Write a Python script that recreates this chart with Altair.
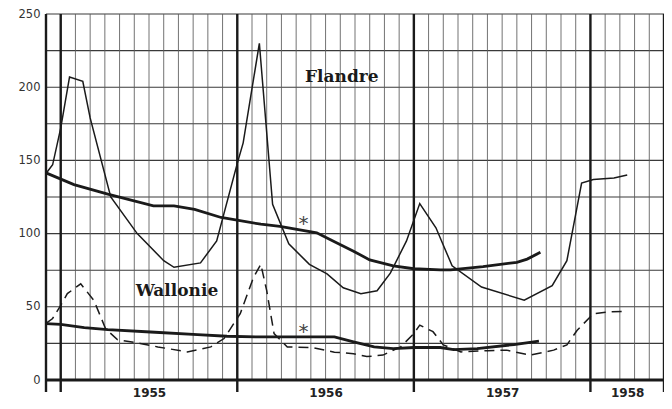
import altair as alt
import pandas as pd

# month index: 0 = January 1955, -1 = December 1954
flandre_m = [-1, -0.55, 0, 0.6, 1.5, 2.0, 3.4, 5.2, 7.0, 7.7, 9.5, 10.6, 12.0, 12.4, 13.5, 14.4, 15.5,
             16.9, 18.1, 19.2, 20.4, 21.5, 22.4, 23.5, 24.4, 25.5, 26.6, 28.6, 31.5, 33.4, 34.4, 35.4,
             36.2, 37.6, 38.5]
flandre_v = [141, 147, 172, 207, 204, 179, 125, 100, 81.5, 77, 80, 95, 148, 162, 230, 120, 93,
             79, 72.5, 63, 59, 61, 73, 95, 120.5, 104, 78, 63.5, 54.5, 64.5, 81.5, 134.5,
             137, 138, 140]

flandre_trend_m = [-1, 0.9, 3.2, 6.3, 7.7, 9.1, 10.9, 13.6, 14.9, 17.4, 18.3, 19.9, 21.0, 22.6, 24,
                   25.8, 26.5, 28.7, 31.0, 31.7, 32.6]
flandre_trend_v = [141.5, 133.5, 127, 119, 119, 116.6, 111, 106.4, 105, 100.5, 96, 88, 82, 78, 76,
                   75.2, 75.2, 77.4, 80.4, 82.6, 87.2]

wallonie_m = [-1, -0.55, 0, 0.45, 1.36, 2.26, 3.05, 3.85, 5.4, 6.6, 8.6, 10.2, 11.1, 12.2, 13.1, 13.6,
              14.0, 14.5, 15.4, 17.2, 18.6, 19.9, 20.8, 21.9, 23.1, 24.0, 24.4, 25.3, 26.0, 27.2, 29,
              30.3, 31.9, 33.5, 34.4, 35.1, 36.2, 37.1, 38.5]
wallonie_v = [38.7, 42, 51, 59, 65.7, 54.3, 35, 27.6, 25, 22.6, 19.2, 22.6, 28.3, 45.3, 70, 79,
              61, 31.7, 22.6, 22, 19, 18, 16, 17, 22.6, 31.7, 37.5, 33, 24, 19.2, 20,
              20.4, 17, 20.4, 24, 34, 45.3, 46.4, 47]

wallonie_trend_m = [-1, 0, 1.6, 3.2, 6.1, 9.3, 11.3, 13.6, 18.6, 19.9, 21.3, 22.6, 24, 25.8, 26.7,
                    28.3, 30.8, 32.5]
wallonie_trend_v = [38.5, 38, 35.8, 34.4, 32.8, 31, 29.9, 29.4, 29.4, 26, 22.6, 21.5, 22.2, 22.2, 20.8,
                    21.5, 24.2, 26.5]

year_labels = ["1955", "1956", "1957", "1958"]
year_label_pos = [6, 18, 30, 38.5]
year_lines = [-1, 0, 12, 24, 36, 41]
month_lines = list(range(-1, 42))
h_grid = [25, 50, 75, 100, 125, 150, 175, 200, 225, 250]
y_ticks = [0, 50, 100, 150, 200, 250]

region_labels = ["Flandre", "Wallonie"]
region_label_m = [19.1, 7.9]
region_label_v = [207, 61]
star_m = [16.5, 16.5]
star_v = [110, 36]

W, H = 618, 366
xs = alt.Scale(domain=[-1, 41], nice=False, zero=False)
ys = alt.Scale(domain=[0, 250], nice=False)

def series(m, v, name):
    return pd.DataFrame({"m": m, "v": v, "s": name})

df_f = series(flandre_m, flandre_v, "f")
df_ft = series(flandre_trend_m, flandre_trend_v, "ft")
df_w = series(wallonie_m, wallonie_v, "w")
df_wt = series(wallonie_trend_m, wallonie_trend_v, "wt")

ink = "#1a1a1a"

label_expr = ("datum.value < 12 ? '" + year_labels[0] + "' : datum.value < 24 ? '" + year_labels[1] +
              "' : datum.value < 36 ? '" + year_labels[2] + "' : '" + year_labels[3] + "'")

x_axis = alt.Axis(
    values=year_label_pos, labelExpr=label_expr, ticks=False, domain=False, grid=False,
    title=None, labelFontSize=12, labelFontWeight="bold", labelColor="#222",
    labelFont="DejaVu Sans", labelPadding=7)
y_axis = alt.Axis(
    values=y_ticks, ticks=False, domain=False, grid=False, title=None,
    labelFontSize=11.5, labelColor="#333", labelFont="DejaVu Sans", labelPadding=6)

X = alt.X("m:Q", scale=xs, axis=x_axis)
Y = alt.Y("v:Q", scale=ys, axis=y_axis)

hgrid = alt.Chart(pd.DataFrame({"v": h_grid})).mark_rule(color="#3a3a3a", strokeWidth=1.1).encode(
    y=Y, x=alt.value(0), x2=alt.value(W))

vgrid = alt.Chart(pd.DataFrame({"m": month_lines})).mark_rule(color="#5a5a5a", strokeWidth=0.85).encode(
    x=X, y=alt.value(0), y2=alt.value(H))

ygrid_thick = alt.Chart(pd.DataFrame({"m": year_lines})).mark_rule(color=ink, strokeWidth=2.4).encode(
    x=X, y=alt.value(0), y2=alt.value(H + 12))

baseline = alt.Chart(pd.DataFrame({"v": [0]})).mark_rule(color=ink, strokeWidth=3).encode(
    y=Y, x=alt.value(0), x2=alt.value(W))

line_f = alt.Chart(df_f).mark_line(color=ink, strokeWidth=1.5).encode(x=X, y=Y)
line_ft = alt.Chart(df_ft).mark_line(color=ink, strokeWidth=2.8).encode(x=X, y=Y)
line_w = alt.Chart(df_w).mark_line(color=ink, strokeWidth=1.5, strokeDash=[10, 6]).encode(x=X, y=Y)
line_wt = alt.Chart(df_wt).mark_line(color=ink, strokeWidth=2.8).encode(x=X, y=Y)

labels = alt.Chart(pd.DataFrame({"m": region_label_m, "v": region_label_v, "t": region_labels})).mark_text(
    font="DejaVu Serif", fontSize=17, fontWeight="bold", color=ink, align="center", baseline="middle"
).encode(x=X, y=Y, text="t:N")

stars = alt.Chart(pd.DataFrame({"m": star_m, "v": star_v, "t": ["*", "*"]})).mark_text(
    font="DejaVu Sans", fontSize=20, color="#444", align="center", baseline="middle", dy=5
).encode(x=X, y=Y, text="t:N")

chart = alt.layer(
    hgrid, vgrid, ygrid_thick, baseline, line_f, line_ft, line_w, line_wt, labels, stars
).properties(
    width=W, height=H,
    autosize=alt.AutoSizeParams(type="none"),
    padding={"left": 38, "top": 6, "right": 0, "bottom": 20},
    background="white",
).configure_view(stroke=None)

chart.save("out.html", embed_options={"renderer": "svg", "actions": False})
